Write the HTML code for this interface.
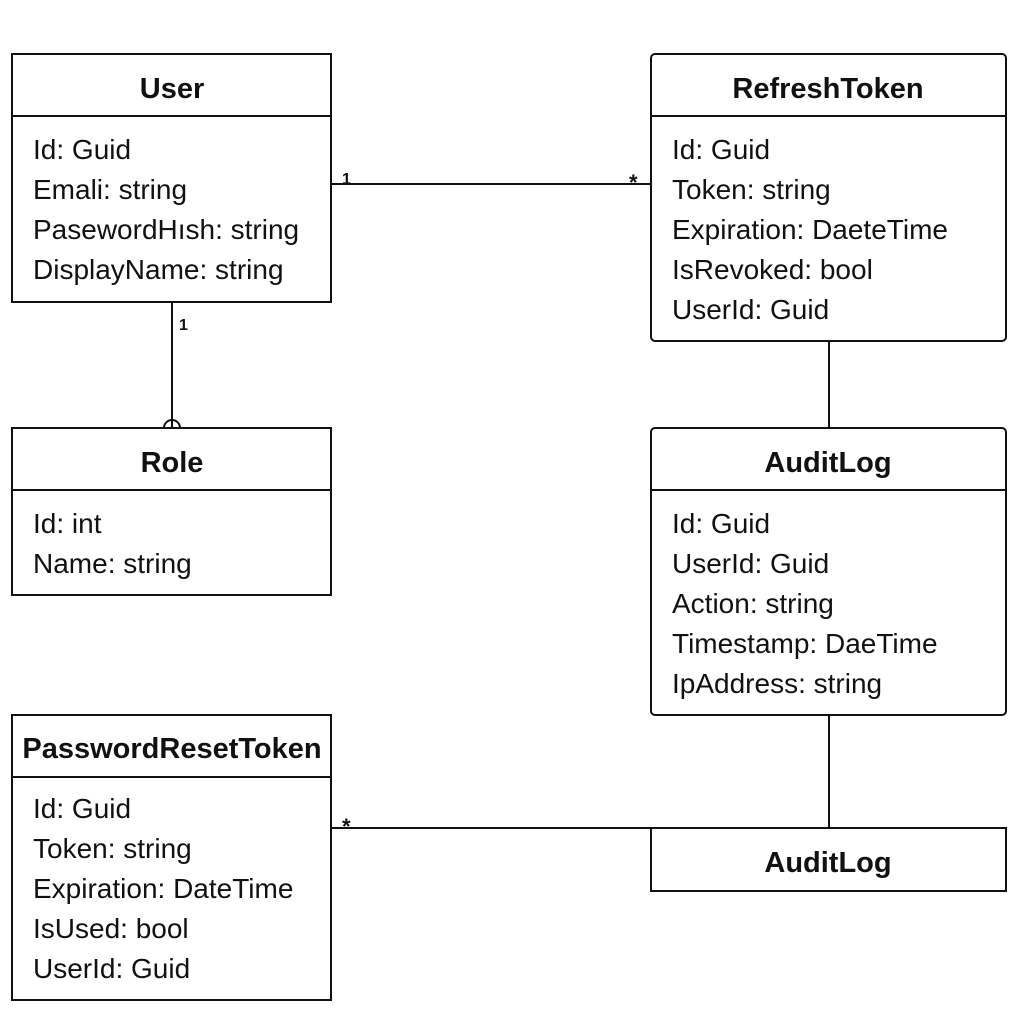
<!DOCTYPE html>
<html><head><meta charset="utf-8"><style>html,body{margin:0;padding:0;background:#fff}
svg text{font-family:"Liberation Sans",Arial,sans-serif}</style></head>
<body>
<svg width="1024" height="1024" viewBox="0 0 1024 1024" xmlns="http://www.w3.org/2000/svg" style="font-family:'Liberation Sans',sans-serif">
<rect width="1024" height="1024" fill="#fff"/>
<g stroke="#111" stroke-width="2" fill="none">
<line x1="331" y1="184" x2="651" y2="184"/>
<line x1="172" y1="302" x2="172" y2="428"/>
<path d="M164 428 A8 8 0 0 1 180 428"/>
<line x1="829" y1="341" x2="829" y2="428"/>
<line x1="829" y1="715" x2="829" y2="828"/>
<line x1="331" y1="828" x2="651" y2="828"/>
<rect x="12" y="54" width="319" height="248"/><line x1="12" y1="116" x2="331" y2="116"/>
<rect x="651" y="54" width="355" height="287" rx="4"/><line x1="651" y1="116" x2="1006" y2="116"/>
<rect x="12" y="428" width="319" height="167"/><line x1="12" y1="490" x2="331" y2="490"/>
<rect x="651" y="428" width="355" height="287" rx="4"/><line x1="651" y1="490" x2="1006" y2="490"/>
<rect x="12" y="715" width="319" height="285"/><line x1="12" y1="777" x2="331" y2="777"/>
<rect x="651" y="828" width="355" height="63"/>
</g>
<g fill="#111" font-size="29" font-weight="bold" text-anchor="middle">
<text x="172" y="98">User</text>
<text x="828" y="98">RefreshToken</text>
<text x="172" y="472">Role</text>
<text x="828" y="472">AuditLog</text>
<text x="172" y="758">PasswordResetToken</text>
<text x="828" y="872">AuditLog</text>
</g>
<g fill="#111" font-size="28">
<text x="33" y="159">Id: Guid</text>
<text x="33" y="199">Emali: string</text>
<text x="33" y="239">PasewordHısh: string</text>
<text x="33" y="279">DisplayName: string</text>
<text x="672" y="159">Id: Guid</text>
<text x="672" y="199">Token: string</text>
<text x="672" y="239">Expiration: DaeteTime</text>
<text x="672" y="279">IsRevoked: bool</text>
<text x="672" y="319">UserId: Guid</text>
<text x="33" y="533">Id: int</text>
<text x="33" y="573">Name: string</text>
<text x="672" y="533">Id: Guid</text>
<text x="672" y="573">UserId: Guid</text>
<text x="672" y="613">Action: string</text>
<text x="672" y="653">Timestamp: DaeTime</text>
<text x="672" y="693">IpAddress: string</text>
<text x="33" y="818">Id: Guid</text>
<text x="33" y="858">Token: string</text>
<text x="33" y="898">Expiration: DateTime</text>
<text x="33" y="938">IsUsed: bool</text>
<text x="33" y="978">UserId: Guid</text>
</g>
<g fill="#111" font-size="16" font-weight="bold">
<text x="342" y="184">1</text>
<text x="179" y="330">1</text>
</g>
<g fill="#111" font-size="22" font-weight="bold">
<text x="629" y="190">*</text>
<text x="342" y="834">*</text>
</g>
</svg>
</body></html>
